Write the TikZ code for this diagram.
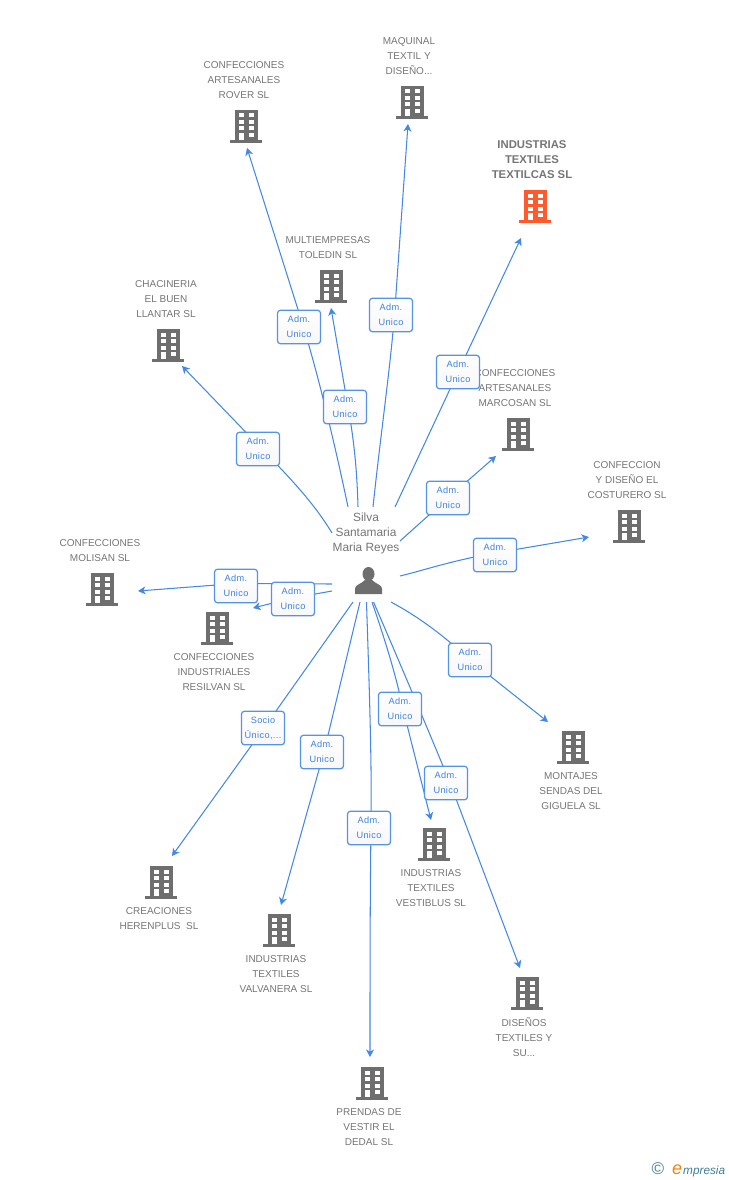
\documentclass[tikz,border=0pt]{standalone}
\usepackage{fontspec}
\setmainfont{Liberation Sans}
\usetikzlibrary{arrows.meta,backgrounds}
\definecolor{lnk}{HTML}{4388E6}
\definecolor{bdr}{HTML}{5593E6}
\definecolor{btx}{HTML}{3F83E0}
\definecolor{gry}{HTML}{6E6E6E}
\definecolor{txt}{HTML}{757575}
\definecolor{org}{HTML}{FF5A2B}
\definecolor{teal2}{HTML}{3F7F96}
\tikzset{
 x=1pt,y=-1pt,
 link/.style={draw=lnk,line width=1.05pt,-{Stealth[length=7.5pt,width=8pt,inset=2.2pt]}},
 adm/.style={draw=bdr,line width=1.25pt,rounded corners=3pt,minimum width=43pt,minimum height=33.5pt,
   inner sep=0pt,top color=white,bottom color=black!3,text=btx,font=\fontsize{9.2}{15}\addfontfeatures{LetterSpace=4}\selectfont,align=center},
 lab/.style={text=txt,font=\fontsize{10}{15}\selectfont,align=center,inner sep=0pt},
 labmain/.style={text=txt,font=\fontsize{11.3}{15}\selectfont\bfseries,align=center,inner sep=0pt},
 bldgnode/.style={minimum width=32pt,minimum height=34pt,inner sep=0pt},
}
\newcommand{\bld}[4]{%
 \node[bldgnode] (#1) at (#2,#3) {};
 \begin{scope}[shift={(#2,#3)}]
  \fill[#4] (-11.5,-16) rectangle (11.5,14);
  \fill[#4] (-16,14) rectangle (16,17);
  \foreach \yy in {-12.5,-6,0.5}{
   \fill[white] (-7.5,\yy) rectangle (-2.5,\yy+4);
   \fill[white] (2.5,\yy) rectangle (7.5,\yy+4);}
  \fill[white] (2.5,7) rectangle (7.5,11);
  \fill[white] (-7.5,7) rectangle (-2.5,14);
 \end{scope}}
\newcommand{\admtxt}{Adm.\hspace{3pt}\\ Unico}
\begin{document}
\begin{tikzpicture}
\useasboundingbox (0,0) rectangle (728,1180);
% buildings
\bld{rover}{246}{126}{gry}
\bld{maquinal}{412}{102}{gry}
\bld{textilcas}{535}{206}{org}
\bld{multi}{331}{286}{gry}
\bld{chacineria}{168}{345}{gry}
\bld{marcosan}{518}{434}{gry}
\bld{costurero}{629}{526}{gry}
\bld{molisan}{102}{589}{gry}
\bld{resilvan}{217}{628}{gry}
\bld{sendas}{573}{747}{gry}
\bld{vestiblus}{434}{844}{gry}
\bld{herenplus}{161}{882}{gry}
\bld{valvanera}{279}{930}{gry}
\bld{disenos}{527}{993}{gry}
\bld{dedal}{372}{1083}{gry}
% labels
\node[lab] (lrover) at (244,80.5) {CONFECCIONES\\ARTESANALES\\ROVER SL};
\node[lab] (lmaquinal) at (409,56.5) {MAQUINAL\\TEXTIL Y\\DISEÑO...};
\node[labmain] (ltextilcas) at (532,159.5) {INDUSTRIAS\\TEXTILES\\TEXTILCAS SL};
\node[lab] (lmulti) at (328,248) {MULTIEMPRESAS\\TOLEDIN SL};
\node[lab] (lchacineria) at (166,299.5) {CHACINERIA\\EL BUEN\\LLANTAR SL};
\node[lab] (lmarcosan) at (515,388.5) {CONFECCIONES\\ARTESANALES\\MARCOSAN SL};
\node[lab] (lcosturero) at (627,480.5) {CONFECCION\\Y DISEÑO EL\\COSTURERO SL};
\node[lab] (lmolisan) at (100,551) {CONFECCIONES\\MOLISAN SL};
\node[lab] (lresilvan) at (214,672.5) {CONFECCIONES\\INDUSTRIALES\\RESILVAN SL};
\node[lab] (lsendas) at (571,791.5) {MONTAJES\\SENDAS DEL\\GIGUELA SL};
\node[lab] (lvestiblus) at (431,888.5) {INDUSTRIAS\\TEXTILES\\VESTIBLUS SL};
\node[lab] (lherenplus) at (159,919) {CREACIONES\\HERENPLUS\ \ SL};
\node[lab] (lvalvanera) at (276,974.5) {INDUSTRIAS\\TEXTILES\\VALVANERA SL};
\node[lab] (ldisenos) at (524,1037.5) {DISEÑOS\\TEXTILES Y\\SU...};
\node[lab] (ldedal) at (369,1127.5) {PRENDAS DE\\VESTIR EL\\DEDAL SL};
\node[lab,font=\fontsize{11.9}{15}\selectfont] (silva) at (366,533) {Silva\\Santamaria\\Maria Reyes};
% person
\node[minimum width=28pt,minimum height=28pt,inner sep=0pt] (person) at (368.5,581) {};
\fill[gry] (368.5,574) ellipse (6pt and 7pt);
\fill[gry] (355,594) -- (355,588.5) .. controls (355,585) and (361,584) .. (365,580) -- (372,580) .. controls (376,584) and (382,585) .. (382,588.5) -- (382,594) -- cycle;
% boxes
\node[adm] (brover) at (299,327) {\admtxt};
\node[adm] (bmulti) at (345,407) {\admtxt};
\node[adm] (bmaquinal) at (391,315) {\admtxt};
\node[adm] (btextilcas) at (458,372) {\admtxt};
\node[adm] (bchacineria) at (258,449) {\admtxt};
\node[adm] (bmarcosan) at (448,498) {\admtxt};
\node[adm] (bcosturero) at (495,555) {\admtxt};
\node[adm] (bmolisan) at (236,586) {\admtxt};
\node[adm] (bresilvan) at (293,599) {\admtxt};
\node[adm] (bsendas) at (470,660) {\admtxt};
\node[adm] (bvestiblus) at (400,709) {\admtxt};
\node[adm] (bdisenos) at (446,783) {\admtxt};
\node[adm] (bherenplus) at (263,728) {Socio\\ Único,...};
\node[adm] (bvalvanera) at (322,752) {\admtxt};
\node[adm] (bdedal) at (369,828) {\admtxt};
% logo
\node[inner sep=0pt,text=teal2,font=\fontsize{17}{17}\selectfont] (copyr) at (658,1169) {©};
\node[inner sep=0pt,anchor=base west,text=orange,font=\fontsize{18}{20}\itshape\selectfont] (logoe) at (672,1174) {e};
\node[inner sep=0pt,anchor=base west,text=teal2,font=\fontsize{11.8}{13}\itshape\selectfont] (logo) at (683,1174) {mpresia};
% free ends
\coordinate (srover) at (348,507); \coordinate (erover) at (247,148);
\coordinate (smulti) at (358,507); \coordinate (emulti) at (331,308);
\coordinate (smaquinal) at (373,507); \coordinate (emaquinal) at (408,124);
\coordinate (stextilcas) at (395,507); \coordinate (etextilcas) at (521,238);
\coordinate (schacineria) at (332,533); \coordinate (echacineria) at (182,366);
\coordinate (smarcosan) at (400,541); \coordinate (emarcosan) at (496,456);
\coordinate (scosturero) at (400,576); \coordinate (ecosturero) at (589,537);
\coordinate (smolisan) at (332,584); \coordinate (emolisan) at (138,591);
\coordinate (sresilvan) at (332,591); \coordinate (eresilvan) at (253,608);
\coordinate (ssendas) at (391,602); \coordinate (esendas) at (548,722);
\coordinate (svestiblus) at (372,602); \coordinate (evestiblus) at (431,820);
\coordinate (sdisenos) at (373.5,602); \coordinate (edisenos) at (520,968);
\coordinate (sdedal) at (366.5,602); \coordinate (ededal) at (370,1057);
\coordinate (svalvanera) at (360,602); \coordinate (evalvanera) at (281,905);
\coordinate (sherenplus) at (353,602); \coordinate (eherenplus) at (172,856);
\begin{pgfonlayer}{background}
\draw[link] (srover) .. controls (334,440) and (318,375) .. ([xshift=4.5pt]brover.center) -- (erover);
\draw[link] (smulti) .. controls (357,470) and (354,440) .. ([xshift=3pt]bmulti.center) -- (emulti);
\draw[link] (smaquinal) .. controls (380,440) and (390,370) .. ([xshift=3.5pt]bmaquinal.center) -- (emaquinal);
\draw[link] (stextilcas) -- (btextilcas.center) -- (etextilcas);
\draw[link] (schacineria) .. controls (315,505) and (295,483) .. ([xshift=4pt]bchacineria.center) -- (echacineria);
\draw[link] (smarcosan) -- (bmarcosan.center) -- (emarcosan);
\draw[link] (scosturero) .. controls (425,570) and (450,561) .. ([yshift=2pt]bcosturero.center) .. controls (530,547) and (560,542) .. (ecosturero);
\draw[link] (smolisan) -- ([yshift=2.5pt]bmolisan.center) -- (emolisan);
\draw[link] (sresilvan) -- ([yshift=1pt]bresilvan.center) -- (eresilvan);
\draw[link] (ssendas) .. controls (415,615) and (440,632) .. (bsendas.center) -- (esendas);
\draw[link] (svestiblus) .. controls (385,640) and (396,675) .. ([xshift=3pt]bvestiblus.center) -- (evestiblus);
\draw[link] (sdisenos) .. controls (390,640) and (425,722) .. ([xshift=4pt]bdisenos.center) -- (edisenos);
\draw[link] (sdedal) .. controls (369,680) and (372,760) .. ([xshift=2pt]bdedal.center) .. controls (370,900) and (370,980) .. (ededal);
\draw[link] (svalvanera) -- ([xshift=2pt]bvalvanera.center) -- (evalvanera);
\draw[link] (sherenplus) -- ([xshift=1pt]bherenplus.center) -- (eherenplus);
\end{pgfonlayer}
\end{tikzpicture}
\end{document}
